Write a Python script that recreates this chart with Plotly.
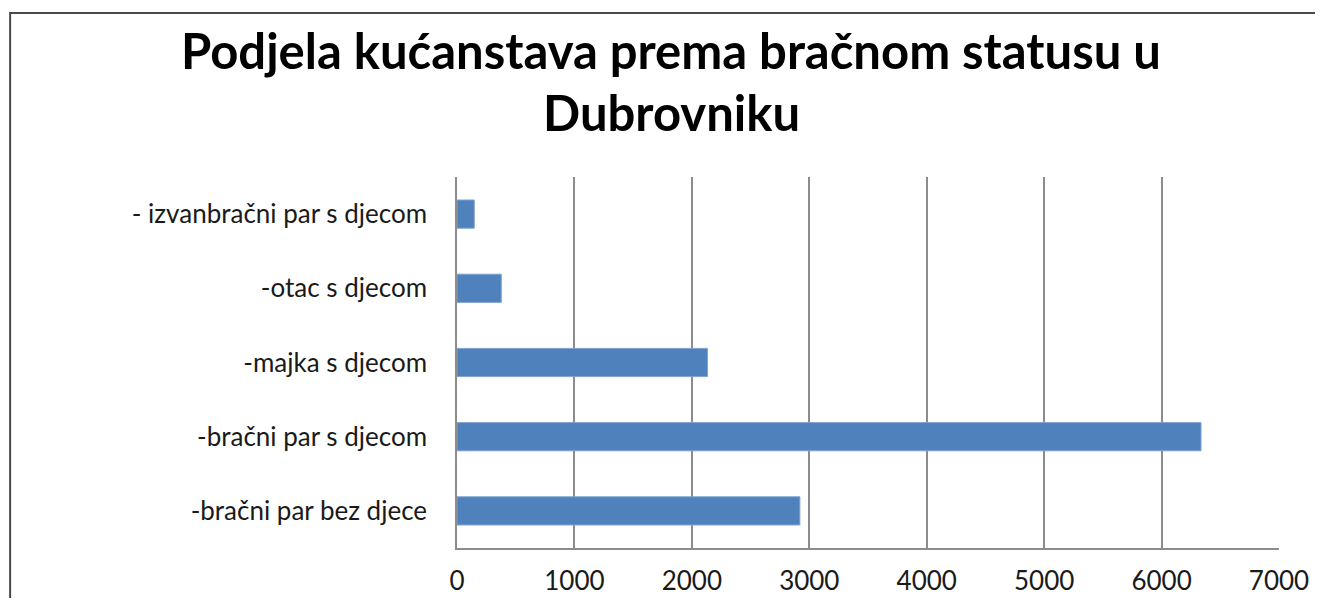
import plotly.graph_objects as go

categories = ["-bračni par bez djece", "-bračni par s djecom", "-majka s djecom",
              "-otac s djecom", "- izvanbračni par s djecom"]
values = [2920, 6336, 2133, 377, 147]
x_ticks = [0, 1000, 2000, 3000, 4000, 5000, 6000, 7000]
title_lines = ["Podjela kućanstava prema bračnom statusu u", "Dubrovniku"]

OFF = 8  # page body margin
W, H = 1323 - 2 * OFF, 606 - 2 * OFF
L, R, T, B = 456.7 - OFF, 1279.3 - OFF, 177 - OFF, 548 - OFF

fig = go.Figure(go.Bar(
    x=values, y=categories, orientation="h",
    marker=dict(color="#4F81BD", line=dict(color="#7FA3D3", width=1)),
    width=0.38,
))

def px2paper_x(px):
    return (px - OFF - L) / (R - L)

def px2paper_y(py):
    return (B - (py - OFF)) / (B - T)

fig.update_layout(
    width=W, height=H,
    margin=dict(l=L, r=W - R, t=T, b=H - B, pad=0, autoexpand=False),
    paper_bgcolor="white", plot_bgcolor="white",
    showlegend=False,
    font=dict(family="Lato, 'Open Sans', sans-serif", color="#1a1a1a"),
    xaxis=dict(range=[0, 7000], tickvals=x_ticks, showgrid=True,
               gridcolor="#8c8c8c", gridwidth=1.5, zeroline=False,
               showline=True, linecolor="#8c8c8c", linewidth=1.5,
               mirror=False, ticks="", tickfont=dict(size=26, color="#1a1a1a"),
               ticklabelstandoff=9, fixedrange=True, automargin=False),
    yaxis=dict(showgrid=False, showline=True, linecolor="#8c8c8c", linewidth=1.5,
               ticks="", tickfont=dict(size=26, color="#1a1a1a"),
               ticklabelstandoff=23, range=[-0.5, 4.5], fixedrange=True,
               automargin=False),
    shapes=[dict(type="rect", xref="paper", yref="paper",
                 x0=px2paper_x(9.5), x1=px2paper_x(1400),
                 y0=px2paper_y(700), y1=px2paper_y(13),
                 line=dict(color="#4a4a4a", width=2), fillcolor="rgba(0,0,0,0)",
                 layer="below")],
    annotations=[
        dict(text="<b>" + title_lines[0] + "</b>", xref="paper", yref="paper",
             x=px2paper_x(671), y=px2paper_y(50), xanchor="center", yanchor="middle",
             showarrow=False, font=dict(size=49, color="black")),
        dict(text="<b>" + title_lines[1] + "</b>", xref="paper", yref="paper",
             x=px2paper_x(671), y=px2paper_y(112), xanchor="center", yanchor="middle",
             showarrow=False, font=dict(size=49, color="black")),
    ],
)

fig.write_html("out.html")
